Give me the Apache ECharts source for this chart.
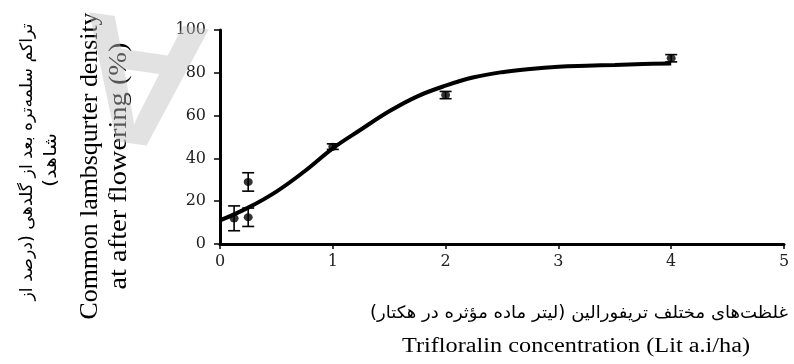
<!DOCTYPE html>
<html>
<head>
<meta charset="utf-8">
<script src="https://cdn.jsdelivr.net/npm/echarts@6/dist/echarts.min.js"></script>
<style>html,body{margin:0;padding:0;background:#fff}#main{width:794px;height:364px}</style>
</head>
<body>
<div id="main"></div>
<script>
// ---- data ----
const doseX   = [0.125, 0.25, 0.25, 1, 2, 4];          // Lit a.i/ha
const density = [12, 29, 12.5, 45.5, 69.6, 86.8];      // % of control
const errBar  = [5.8, 4.3, 4.3, 1.3, 1.7, 1.7];        // ± error
const fitX = [0, 0.25, 0.5, 0.75, 1, 1.25, 1.5, 1.75, 2, 2.25, 2.5, 2.75, 3, 3.25, 3.5, 3.75, 4];
const fitY = [11, 17, 24.5, 34, 44.7, 53.5, 62, 69, 74, 77.9, 80.3, 81.8, 82.8, 83.3, 83.7, 84.1, 84.4];
const xTickLabels = ['0', '1', '2', '3', '4', '5'];
const yTickLabels = ['0', '20', '40', '60', '80', '100'];
const yTitleFa = ['\u200Fتراکم سلمه‌تره بعد از گلدهی (درصد از\u200F', '\u200Fشاهد)\u200F'];
const yTitleEn = ['Common lambsqurter density', 'at after flowering (%)'];
const xTitleFa = '\u200Fغلظت‌های مختلف تریفورالین (لیتر ماده مؤثره در هکتار)\u200F';
const xTitleEn = 'Trifloralin concentration (Lit a.i/ha)';

const measureCtx = document.createElement('canvas').getContext('2d');
function txt(text, family, size, cx, cy, len, rot, weight) {
  const font = (weight || 'normal') + ' ' + size + 'px ' + family;
  measureCtx.font = font;
  const w = measureCtx.measureText(text).width;
  return {
    type: 'text', x: cx, y: cy, rotation: rot || 0, scaleX: len ? len / w : 1,
    z: 50,
    style: { text: text, font: font, fill: '#000', align: 'center', verticalAlign: 'middle' }
  };
}

const chart = echarts.init(document.getElementById('main'), null, { renderer: 'canvas' });
const serifTick = { fontFamily: 'DejaVu Serif', fontSize: 16, color: '#222' };
chart.setOption({
  animation: false,
  backgroundColor: '#fff',
  grid: { left: 220, right: 10, top: 30, bottom: 120 },
  xAxis: {
    type: 'value', min: 0, max: 5, interval: 1,
    axisLine: { show: true, onZero: false, lineStyle: { color: '#000', width: 3 } },
    axisTick: { show: true, length: 5, lineStyle: { color: '#000', width: 1.5 } },
    axisLabel: Object.assign({ margin: 10, formatter: v => xTickLabels[Math.round(v)] }, serifTick),
    splitLine: { show: false }
  },
  yAxis: {
    type: 'value', min: 0, max: 100, interval: 20,
    axisLine: { show: true, onZero: false, lineStyle: { color: '#000', width: 3 } },
    axisTick: { show: true, length: 6, lineStyle: { color: '#000', width: 1.5 } },
    axisLabel: Object.assign({ margin: 14, formatter: v => yTickLabels[Math.round(v / 20)] }, serifTick),
    splitLine: { show: false }
  },
  series: [
    {
      type: 'line', data: fitX.map((x, i) => [x, fitY[i]]), smooth: 0.4,
      symbol: 'none', lineStyle: { color: '#000', width: 4 }, z: 2
    },
    {
      type: 'custom', z: 3,
      data: doseX.map((x, i) => [x, density[i], errBar[i]]),
      renderItem: function (params, api) {
        const x = api.value(0), y = api.value(1), e = api.value(2);
        const t = api.coord([x, y + e]), b = api.coord([x, y - e]);
        const hw = 6;
        const st = { stroke: '#000', lineWidth: 1.6 };
        return {
          type: 'group', children: [
            { type: 'line', shape: { x1: t[0], y1: t[1], x2: b[0], y2: b[1] }, style: st },
            { type: 'line', shape: { x1: t[0] - hw, y1: t[1], x2: t[0] + hw, y2: t[1] }, style: st },
            { type: 'line', shape: { x1: b[0] - hw, y1: b[1], x2: b[0] + hw, y2: b[1] }, style: st }
          ]
        };
      }
    },
    {
      type: 'scatter', data: doseX.map((x, i) => [x, density[i]]),
      symbol: 'circle', symbolSize: [9, 8], itemStyle: { color: '#000' }, z: 4
    }
  ],
  graphic: [
    // faint watermark letter
    { type: 'text', x: 142, y: 70, rotation: 3.0, z: 100, silent: true,
      style: { text: 'A', font: 'bold 180px "Liberation Sans"', fill: 'rgba(190,190,190,0.45)', align: 'center', verticalAlign: 'middle' } },
    txt(yTitleFa[0], '"DejaVu Sans"', 17, 28, 162, 277, Math.PI / 2),
    txt(yTitleFa[1], '"DejaVu Sans"', 17, 52, 160, 54, Math.PI / 2),
    txt(yTitleEn[0], '"Liberation Serif"', 25, 90, 166, 307, Math.PI / 2),
    txt(yTitleEn[1], '"Liberation Serif"', 25, 119, 166, 247, Math.PI / 2),
    txt(xTitleFa, '"DejaVu Sans"', 17, 579, 314, 418, 0),
    txt(xTitleEn, '"Liberation Serif"', 20, 576, 347, 348, 0)
  ]
});
</script>
</body>
</html>
